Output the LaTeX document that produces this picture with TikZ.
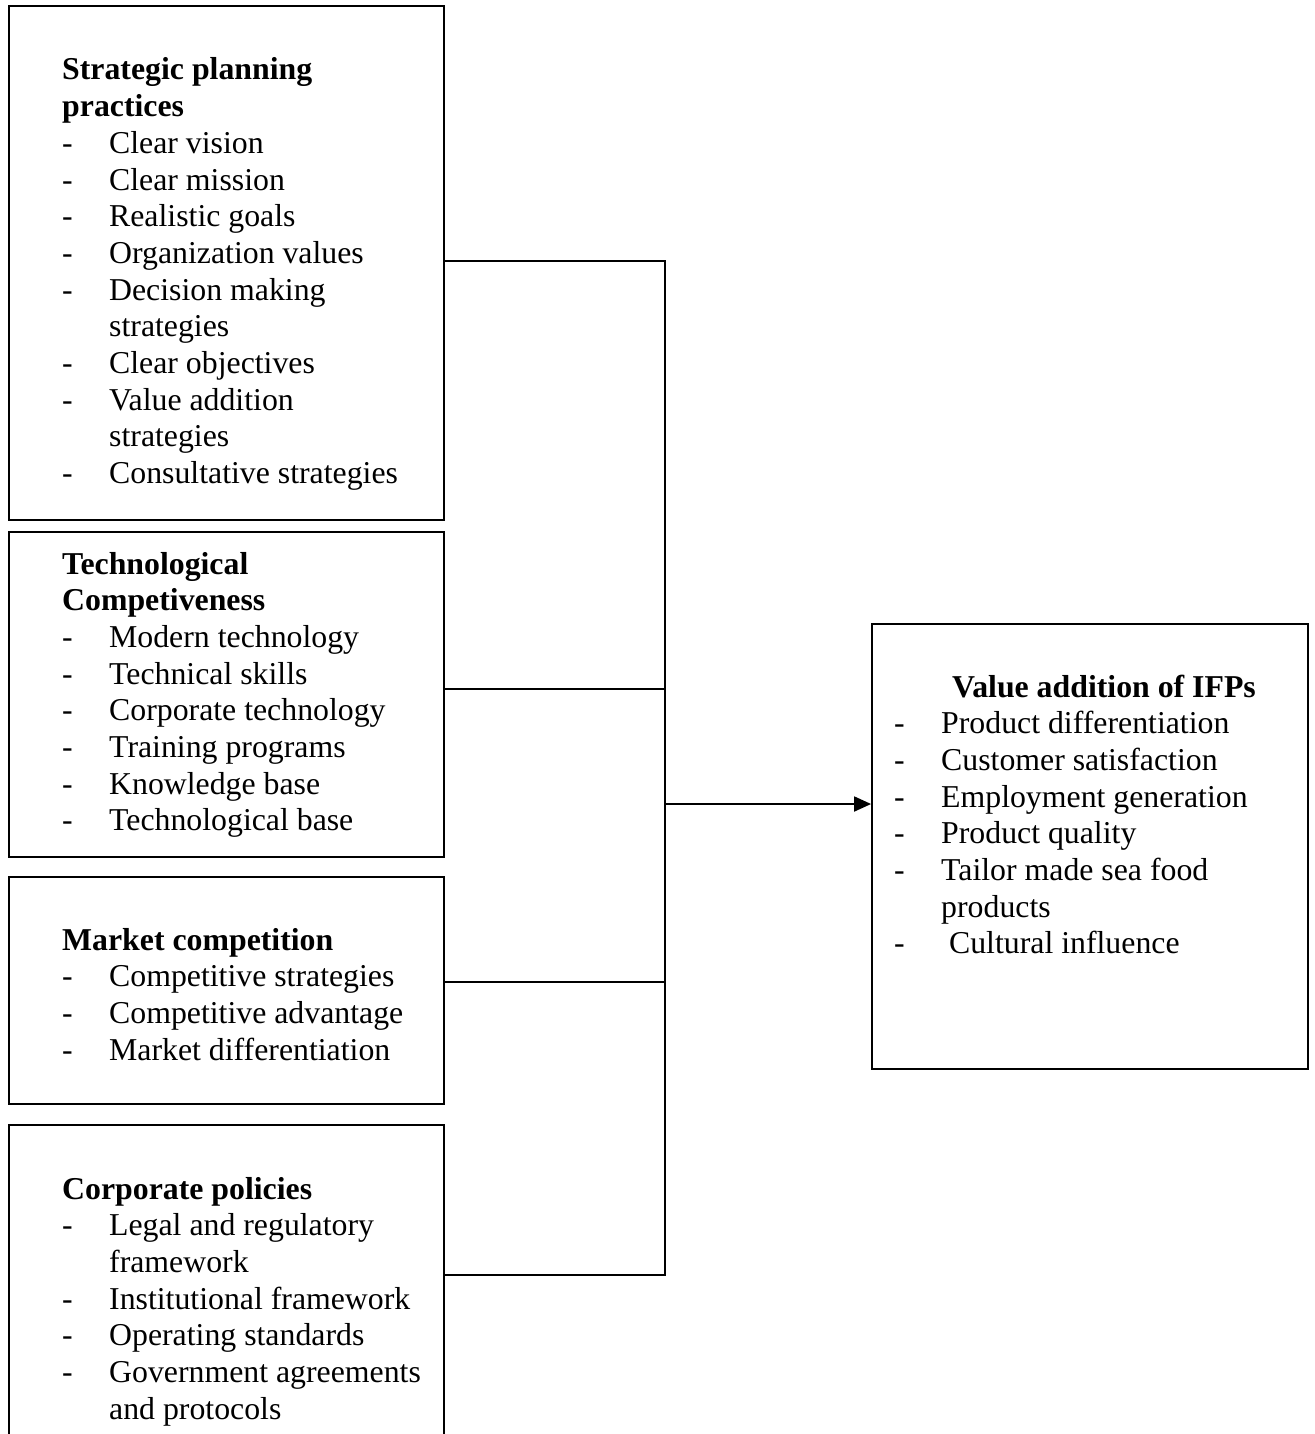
\documentclass[tikz,border=0pt]{standalone}
\usepackage{fontspec}
\setmainfont{Liberation Serif}
\usetikzlibrary{arrows.meta}
\newcommand\bxtitle[1]{\hbox{\bfseries #1}}
\newcommand\bxitem[1]{\hbox{\makebox[47pt][l]{-}#1}}
\newcommand\bxcont[1]{\hbox{\hspace*{47pt}#1}}
\newcommand\bxlist[1]{\vtop{\fontsize{31.8}{36.7}\selectfont #1}}
\tikzset{
  box/.style={draw, line width=1.8pt, rectangle, inner sep=0pt},
  txt/.style={anchor=base west, inner sep=0pt},
  conn/.style={line width=1.8pt},
  arr/.style={line width=1.8pt, -{Triangle[length=17pt,width=15pt]}}
}
\begin{document}
\begin{tikzpicture}[x=1pt,y=-1pt]
\useasboundingbox (0,0) rectangle (1314,1434);
% boxes
\node[box, minimum width=435pt, minimum height=514pt] (b1) at (226.5,263) {};
\node[box, minimum width=435pt, minimum height=325pt] (b2) at (226.5,694.5) {};
\node[box, minimum width=435pt, minimum height=227pt] (b3) at (226.5,990.5) {};
\node[box, minimum width=435pt, minimum height=360pt] (b4) at (226.5,1305) {};
\node[box, minimum width=436pt, minimum height=445pt] (b5) at (1090,846.5) {};
% texts
\node[txt] (t1) at (62,80) {\bxlist{%
  \bxtitle{Strategic planning}\bxtitle{practices}%
  \bxitem{Clear vision}\bxitem{Clear mission}\bxitem{Realistic goals}%
  \bxitem{Organization values}\bxitem{Decision making}\bxcont{strategies}%
  \bxitem{Clear objectives}\bxitem{Value addition}\bxcont{strategies}%
  \bxitem{Consultative strategies}}};
\node[txt] (t2) at (62,574) {\bxlist{%
  \bxtitle{Technological}\bxtitle{Competiveness}%
  \bxitem{Modern technology}\bxitem{Technical skills}\bxitem{Corporate technology}%
  \bxitem{Training programs}\bxitem{Knowledge base}\bxitem{Technological base}}};
\node[txt] (t3) at (62,950) {\bxlist{%
  \bxtitle{Market competition}%
  \bxitem{Competitive strategies}\bxitem{Competitive advantage}\bxitem{Market differentiation}}};
\node[txt] (t4) at (62,1199) {\bxlist{%
  \bxtitle{Corporate policies}%
  \bxitem{Legal and regulatory}\bxcont{framework}\bxitem{Institutional framework}%
  \bxitem{Operating standards}\bxitem{Government agreements}\bxcont{and protocols}}};
\node[txt] (t5t) at (952,697) {\fontsize{31.8}{36.7}\selectfont\bfseries Value addition of IFPs};
\node[txt] (t5) at (894,733.7) {\bxlist{%
  \bxitem{Product differentiation}\bxitem{Customer satisfaction}%
  \bxitem{Employment generation}\bxitem{Product quality}%
  \bxitem{Tailor made sea food}\bxcont{products}\bxitem{\ Cultural influence}}};
% connectors
\coordinate (j1) at (665,261);
\coordinate (j2) at (665,689);
\coordinate (j3) at (665,982);
\coordinate (j4) at (665,1275);
\coordinate (ja) at (665,804);
\draw[conn] (b1.east |- j1) -- (j1) -- (j4) -- (b4.east |- j4);
\draw[conn] (b2.east |- j2) -- (j2);
\draw[conn] (b3.east |- j3) -- (j3);
\draw[arr] (ja) -- (b5.west |- ja);
\end{tikzpicture}
\end{document}
